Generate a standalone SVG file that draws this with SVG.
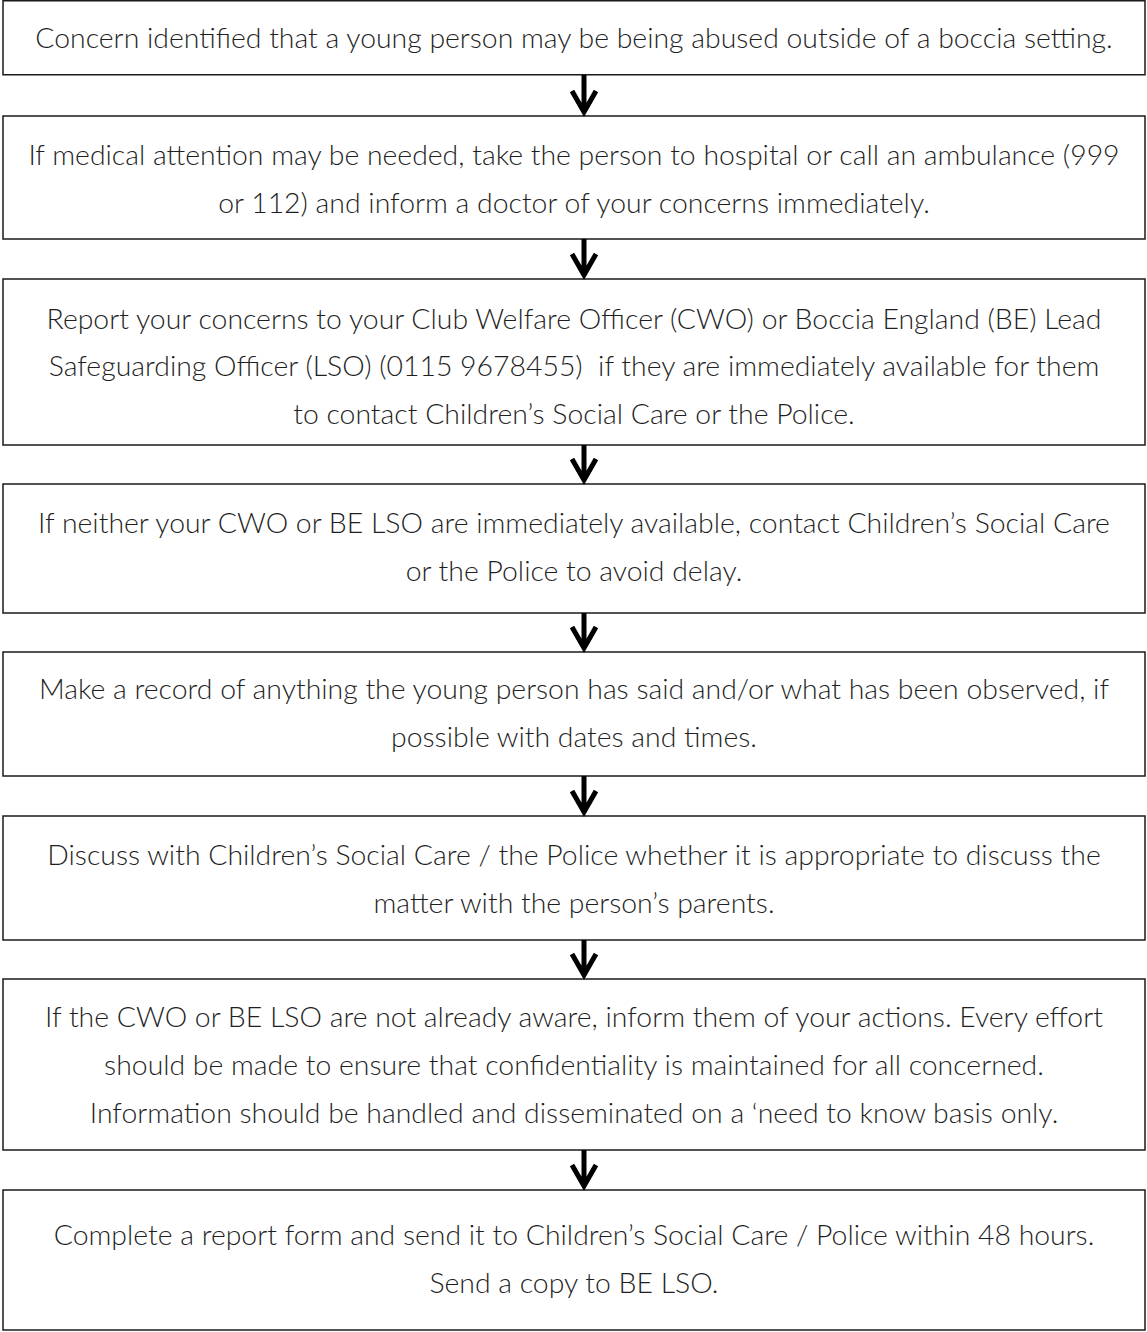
<svg xmlns="http://www.w3.org/2000/svg" width="1147" height="1332" viewBox="0 0 1147 1332">
<style>
.box{fill:#fff;stroke:#1a1a1a;stroke-width:1.5}
.t{font-family:Lato,"Liberation Sans",sans-serif;font-weight:300;font-size:28.4px;fill:#1f1f1f;text-anchor:middle;white-space:pre}
.arr{fill:none;stroke:#000;stroke-width:5}
</style>
<rect width="1147" height="1332" fill="#fff"/>
<g id="n1"><rect class="box" x="3" y="0.75" width="1142" height="74"/><text class="t" x="574" y="48">Concern identified that a young person may be being abused outside of a boccia setting.</text></g>
<g id="n2"><rect class="box" x="3" y="116" width="1142" height="123"/><text class="t" x="574" y="165">If medical attention may be needed, take the person to hospital or call an ambulance (999</text><text class="t" x="574" y="213">or 112) and inform a doctor of your concerns immediately.</text></g>
<g id="n3"><rect class="box" x="3" y="279" width="1142" height="166"/><text class="t" x="574" y="329">Report your concerns to your Club Welfare Officer (CWO) or Boccia England (BE) Lead</text><text class="t" x="574" y="376" xml:space="preserve">Safeguarding Officer (LSO) (0115 9678455)  if they are immediately available for them</text><text class="t" x="574" y="424">to contact Children’s Social Care or the Police.</text></g>
<g id="n4"><rect class="box" x="3" y="484" width="1142" height="129"/><text class="t" x="574" y="533">If neither your CWO or BE LSO are immediately available, contact Children’s Social Care</text><text class="t" x="574" y="581">or the Police to avoid delay.</text></g>
<g id="n5"><rect class="box" x="3" y="652" width="1142" height="124"/><text class="t" x="574" y="699">Make a record of anything the young person has said and/or what has been observed, if</text><text class="t" x="574" y="747">possible with dates and times.</text></g>
<g id="n6"><rect class="box" x="3" y="816" width="1142" height="124"/><text class="t" x="574" y="865">Discuss with Children’s Social Care / the Police whether it is appropriate to discuss the</text><text class="t" x="574" y="913">matter with the person’s parents.</text></g>
<g id="n7"><rect class="box" x="3" y="979" width="1142" height="171"/><text class="t" x="574" y="1027">If the CWO or BE LSO are not already aware, inform them of your actions. Every effort</text><text class="t" x="574" y="1075">should be made to ensure that confidentiality is maintained for all concerned.</text><text class="t" x="574" y="1123">Information should be handled and disseminated on a ‘need to know basis only.</text></g>
<g id="n8"><rect class="box" x="3" y="1190" width="1142" height="140"/><text class="t" x="574" y="1245">Complete a report form and send it to Children’s Social Care / Police within 48 hours.</text><text class="t" x="574" y="1293">Send a copy to BE LSO.</text></g>
<g id="connectors">
<path class="arr" d="M584 75V112M572 91L584 112L596 91"/>
<path class="arr" d="M584 239V275M572 254L584 275L596 254"/>
<path class="arr" d="M584 445V480M572 459L584 480L596 459"/>
<path class="arr" d="M584 613V648M572 627L584 648L596 627"/>
<path class="arr" d="M584 776V812M572 791L584 812L596 791"/>
<path class="arr" d="M584 940V975M572 954L584 975L596 954"/>
<path class="arr" d="M584 1150V1186M572 1165L584 1186L596 1165"/>
</g>
</svg>
